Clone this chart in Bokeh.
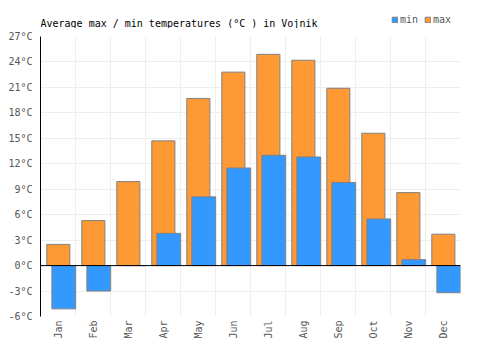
import math
from bokeh.plotting import figure
from bokeh.layouts import column
from bokeh.models import FixedTicker, PrintfTickFormatter, Span, Legend, LegendItem, Label
from bokeh.transform import dodge
from bokeh.embed import file_html
from bokeh.resources import INLINE

months = ["Jan", "Feb", "Mar", "Apr", "May", "Jun", "Jul", "Aug", "Sep", "Oct", "Nov", "Dec"]
t_max = [2.5, 5.3, 9.9, 14.7, 19.7, 22.8, 24.9, 24.2, 20.9, 15.6, 8.6, 3.7]
t_min = [-5.1, -3.0, 0.0, 3.8, 8.1, 11.5, 13.0, 12.8, 9.8, 5.5, 0.7, -3.2]
y_ticks = [-6, -3, 0, 3, 6, 9, 12, 15, 18, 21, 24, 27]
title_text = "Average max / min temperatures (°C ) in Vojnik"

idx = list(range(len(months)))
src = dict(i=idx, m=months, tmax=t_max, tmin=t_min)

FONT = "DejaVu Sans Mono"
MAX_COLOR = "#FF9933"
MIN_COLOR = "#3399FF"
EDGE = "#808080"

# ---------- header (title + legend) ----------
HEADER_H = 28
head = figure(width=500, height=HEADER_H, output_backend="svg", toolbar_location=None,
              x_range=(0, 1), y_range=(0, 1), x_axis_location=None, y_axis_location=None,
              min_border=0)
head.outline_line_color = None
head.grid.visible = False
head.add_layout(Label(x=0, y=5, x_units="screen", y_units="screen", text=title_text,
                      text_font=FONT, text_font_size="10px", text_color="#000000",
                      text_baseline="alphabetic"))
lg_min = head.vbar(x="i", top="tmin", width=0.5, source=src, fill_color=MIN_COLOR,
                   line_color=EDGE, visible=False)
lg_max = head.vbar(x="i", top="tmax", width=0.5, source=src, fill_color=MAX_COLOR,
                   line_color=EDGE, visible=False)
legend = Legend(items=[LegendItem(label="min", renderers=[lg_min]),
                       LegendItem(label="max", renderers=[lg_max])],
                orientation="horizontal", location=(351, 3),
                glyph_width=7, glyph_height=7, spacing=6, padding=0, margin=0,
                label_standoff=2, label_height=10, label_width=10,
                label_text_font=FONT, label_text_font_size="10px",
                label_text_color="#555555", background_fill_alpha=0, border_line_color=None)
head.add_layout(legend)

# ---------- main chart ----------
p = figure(width=500, height=350 - HEADER_H, output_backend="svg", toolbar_location=None,
           x_range=(0, 12), y_range=(-6, 27),
           min_border_left=40, min_border_right=40, min_border_top=36 - HEADER_H,
           min_border_bottom=34)
p.outline_line_color = None

r_max = p.vbar(x=dodge("i", 0.51, range=p.x_range), top="tmax", bottom=0, width=0.66, source=src,
               fill_color=MAX_COLOR, line_color=EDGE, line_width=1)
r_min = p.vbar(x=dodge("i", 0.665, range=p.x_range), top="tmin", bottom=0, width=0.68, source=src,
               fill_color=MIN_COLOR, line_color=EDGE, line_width=1)

# x axis
p.xaxis.ticker = FixedTicker(ticks=[i + 0.5 for i in idx])
p.xaxis.major_label_overrides = {i + 0.5: m for i, m in zip(idx, months)}
p.xaxis.major_label_orientation = math.pi / 2
p.xaxis.axis_line_color = None
p.xaxis.major_tick_line_color = None
p.xaxis.minor_tick_line_color = None
p.xaxis.major_tick_out = 0
p.xaxis.major_tick_in = 0
p.xaxis.major_label_standoff = 4
p.xaxis.major_label_text_font = FONT
p.xaxis.major_label_text_font_size = "10px"
p.xaxis.major_label_text_color = "#555555"

# y axis
p.yaxis.ticker = FixedTicker(ticks=y_ticks)
p.yaxis.formatter = PrintfTickFormatter(format="%d°C")
p.yaxis.axis_line_color = "#000000"
p.yaxis.axis_line_width = 1
p.yaxis.major_tick_line_color = None
p.yaxis.minor_tick_line_color = None
p.yaxis.major_tick_out = 0
p.yaxis.major_tick_in = 0
p.yaxis.major_label_standoff = 8
p.yaxis.major_label_text_font = FONT
p.yaxis.major_label_text_font_size = "10px"
p.yaxis.major_label_text_color = "#555555"

# grids
p.xgrid.ticker = FixedTicker(ticks=list(range(0, 13)))
p.xgrid.grid_line_color = "#eeeeee"
p.ygrid.grid_line_color = "#eeeeee"

p.add_layout(Span(location=0, dimension="width", line_color="#000000", line_width=1))

layout = column(head, p, spacing=0)
open("out.html", "w").write(file_html(layout, INLINE))
